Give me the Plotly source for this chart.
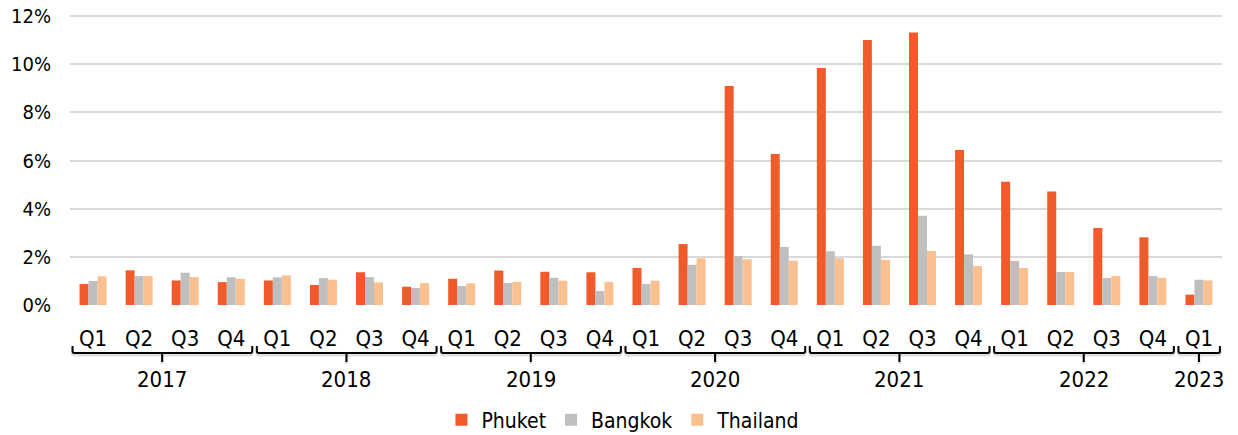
import plotly.graph_objects as go

# quarterly share (%)
years = ["2017", "2018", "2019", "2020", "2021", "2022", "2023"]
quarters_per_year = [4, 4, 4, 4, 4, 4, 1]
quarter_names = ["Q1", "Q2", "Q3", "Q4"]

phuket = [0.87, 1.44, 1.02, 0.95, 1.02, 0.83, 1.36, 0.76, 1.09, 1.43, 1.38, 1.36,
          1.54, 2.53, 9.09, 6.27, 9.84, 11.00, 11.31, 6.44, 5.12, 4.71, 3.20, 2.81, 0.43]
bangkok = [1.00, 1.20, 1.34, 1.15, 1.15, 1.12, 1.16, 0.71, 0.79, 0.91, 1.13, 0.58,
           0.87, 1.67, 2.03, 2.41, 2.23, 2.46, 3.71, 2.10, 1.83, 1.37, 1.12, 1.20, 1.05]
thailand = [1.19, 1.20, 1.16, 1.09, 1.23, 1.05, 0.94, 0.91, 0.90, 0.96, 1.01, 0.96,
            1.01, 1.94, 1.90, 1.84, 1.94, 1.87, 2.24, 1.62, 1.54, 1.37, 1.20, 1.13, 1.02]
y_ticks = [0, 2, 4, 6, 8, 10, 12]

FONT = "DejaVu Sans Condensed, Liberation Sans Narrow, Liberation Sans, Arial, sans-serif"
PLOT_H = 292  # plot area height in px; 12% sits 3px below its top

cats, qlabels = [], []
for yr, n in zip(years, quarters_per_year):
    for q in quarter_names[:n]:
        cats.append(f"{yr} {q}")
        qlabels.append(q)

fig = go.Figure()
for name, vals, color in [("Phuket", phuket, "#F15A2A"),
                          ("Bangkok", bangkok, "#BFBFBF"),
                          ("Thailand", thailand, "#FAC08F")]:
    fig.add_bar(x=cats, y=vals, name=name, marker={"color": color, "line": {"width": 0}})

# year brackets (with a faint drop shadow) and labels under the quarter labels
start = 0
for yr, n in zip(years, quarters_per_year):
    a = start - 0.5 + 0.055
    b = start + n - 0.5 - 0.045
    mid = start + (n - 1) / 2
    path = (f"M {a},-41 L {a},-46 Q {a},-48 {a + 0.04},-48 "
            f"L {b - 0.04},-48 Q {b},-48 {b},-46 L {b},-41 "
            f"M {mid},-48 L {mid},-57")
    for anchor_px, col, w in [(-2, "rgba(0,0,0,0.12)", 3), (0, "black", 2)]:
        fig.add_shape(type="path", path=path, xref="x", yref="paper",
                      ysizemode="pixel", yanchor=anchor_px / PLOT_H,
                      line={"color": col, "width": w})
    fig.add_annotation(x=mid, y=0, xref="x", yref="paper", yshift=-74,
                       text=yr, showarrow=False, yanchor="middle",
                       font={"size": 22, "color": "black", "family": FONT})
    start += n

fig.update_layout(
    width=1238, height=435,
    margin={"l": 70, "r": 16, "t": 435 - 130 - PLOT_H, "b": 130, "autoexpand": False},
    plot_bgcolor="white", paper_bgcolor="white",
    barmode="group", bargap=0.414, bargroupgap=0,
    font={"family": FONT, "color": "black"},
    showlegend=True,
    legend={"orientation": "h", "x": 0.48, "xanchor": "center",
            "y": -115 / PLOT_H, "yanchor": "middle", "font": {"size": 21},
            "itemwidth": 30, "traceorder": "normal"},
)
fig.update_xaxes(type="category", tickmode="array", tickvals=cats, ticktext=qlabels,
                 tickfont={"size": 22}, ticks="", tickangle=0, ticklabelstandoff=18,
                 showline=False, showgrid=False, range=[-0.5, len(cats) - 0.5])
fig.update_yaxes(range=[0, 12 * PLOT_H / 289], tickmode="array", tickvals=y_ticks,
                 ticktext=[f"{v}%" for v in y_ticks], ticklabeloverflow="allow",
                 tickfont={"size": 20}, showgrid=True, gridcolor="#D9D9D9", gridwidth=1.5,
                 zeroline=False, showline=False, ticklabelstandoff=18)

# drop the default page margin so the figure fills the window exactly
fig.write_html("out.html", config={"displayModeBar": False},
               post_script="document.body.style.margin = '0';")
